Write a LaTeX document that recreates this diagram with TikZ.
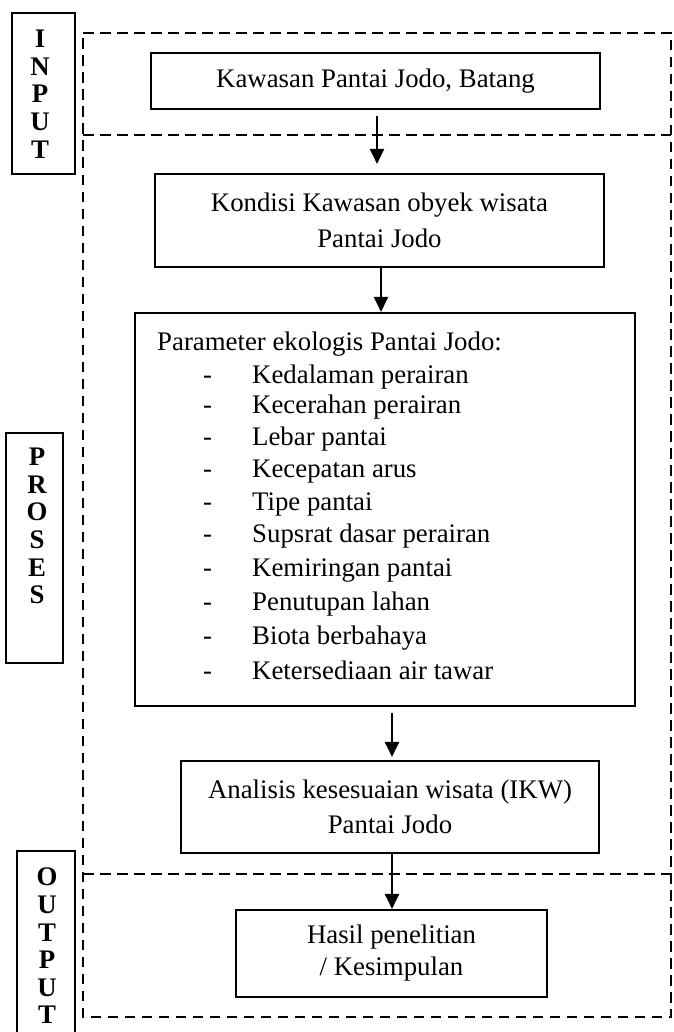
\documentclass[tikz,border=0pt]{standalone}
\usepackage{fontspec}
\setmainfont{Liberation Serif}
\usetikzlibrary{arrows.meta}
\tikzset{
 box/.style={draw, line width=2.1pt, inner sep=0pt, align=center},
 lbl/.style={draw, line width=2.1pt, inner sep=0pt},
 letters/.style={align=center, inner sep=0pt, font=\fontsize{26.8}{27.6}\selectfont\bfseries},
 dsh/.style={line width=2.8pt, dash pattern=on 10.5pt off 6.5pt},
 arr/.style={line width=2.1pt, -{Triangle[length=15pt,width=14pt]}},
 txt/.style={inner sep=0pt, anchor=base west, font=\fontsize{26.8}{32}\selectfont},
}
\begin{document}
\begin{tikzpicture}[x=1pt,y=-1pt]
\useasboundingbox (0,0) rectangle (673,1032);
% dashed frames
\draw[dsh] (83,33) -- (671,33) -- (671,1017) -- (83,1017) -- cycle;
\draw[dsh] (83,135) -- (671,135);
\draw[dsh] (83,874) -- (671,874);
% side labels
\node[lbl, minimum width=63pt, minimum height=161pt] (inbox) at (43.5,93.5) {};
\node[letters, anchor=north] (inlet) at (40,30) {I\\N\\P\\U\\T};
\node[lbl, minimum width=57pt, minimum height=230pt] (prbox) at (34.5,548) {};
\node[letters, anchor=north] (prlet) at (37,448) {P\\R\\O\\S\\E\\S};
\node[lbl, minimum width=58pt, minimum height=189pt] (outbox) at (46,945.5) {};
\node[letters, anchor=north] (outlet) at (47,868) {O\\U\\T\\P\\U\\T};
% main boxes
\node[box, minimum width=449pt, minimum height=56pt, font=\fontsize{26.8}{36}\selectfont] (input) at (375.5,81) {Kawasan Pantai Jodo, Batang};
\node[box, minimum width=449pt, minimum height=93pt, font=\fontsize{26.8}{36}\selectfont] (kondisi) at (379.5,220.5) {Kondisi Kawasan obyek wisata\\Pantai Jodo};
\node[box, minimum width=500pt, minimum height=393pt] (param) at (385,509.5) {};
\node[box, minimum width=418pt, minimum height=92pt, font=\fontsize{26.8}{35}\selectfont] (analisis) at (390,807) {Analisis kesesuaian wisata (IKW)\\Pantai Jodo};
\node[box, minimum width=311pt, minimum height=87pt, font=\fontsize{26.8}{32}\selectfont] (hasil) at (391.5,953.5) {Hasil penelitian\\/ Kesimpulan};
% parameter list
\node[txt] (ptitle) at (157,350) {Parameter ekologis Pantai Jodo:};
\foreach \t/\yy [count=\i] in {Kedalaman perairan/383, Kecerahan perairan/413, Lebar pantai/445, Kecepatan arus/477, Tipe pantai/510, Supsrat dasar perairan/542, Kemiringan pantai/576, Penutupan lahan/610, Biota berbahaya/644, Ketersediaan air tawar/679} {
  \node[txt] (d\i) at (203,\yy) {-};
  \node[txt] (t\i) at (252,\yy) {\t};
}
% arrows
\draw[arr, shorten <=6pt, shorten >=9pt] ([xshift=1.5pt]input.south) -- ([xshift=1.5pt]input.south |- kondisi.north);
\draw[arr] ([xshift=1.5pt]kondisi.south) -- ([xshift=1.5pt]kondisi.south |- param.north);
\draw[arr, shorten <=6pt, shorten >=3pt] ([xshift=7pt]param.south) -- ([xshift=7pt]param.south |- analisis.north);
\draw[arr] ([xshift=2pt]analisis.south) -- ([xshift=2pt]analisis.south |- hasil.north);
\end{tikzpicture}
\end{document}
